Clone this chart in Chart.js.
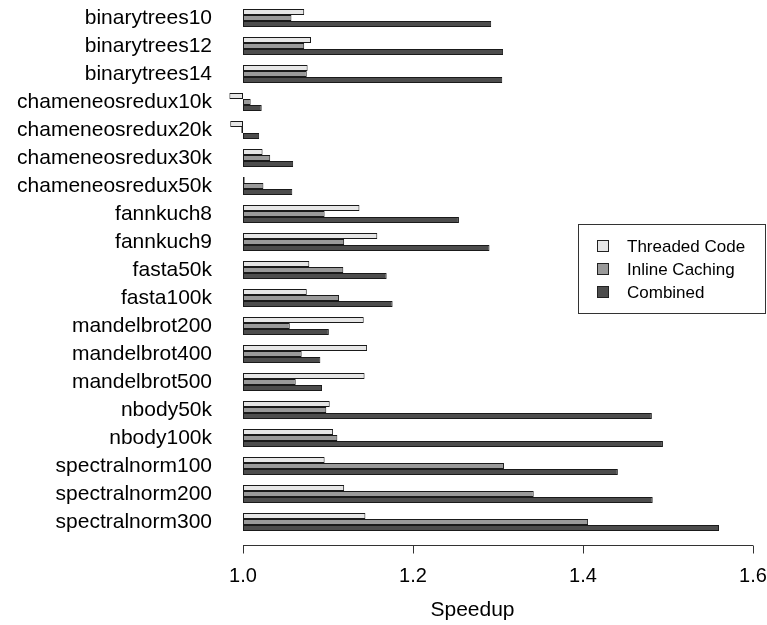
<!DOCTYPE html>
<html>
<head>
<meta charset="utf-8">
<script src="https://cdn.jsdelivr.net/npm/chart.js@4.4.1/dist/chart.umd.min.js"></script>
<style>
  html, body { margin: 0; padding: 0; background: #fff; }
  #wrap { width: 767px; height: 625px; }
</style>
</head>
<body>
<div id="wrap"><canvas id="chart-speedup"></canvas></div>
<script>
// benchmark names, top to bottom
const benchmarks = [
  "binarytrees10", "binarytrees12", "binarytrees14",
  "chameneosredux10k", "chameneosredux20k", "chameneosredux30k", "chameneosredux50k",
  "fannkuch8", "fannkuch9", "fasta50k", "fasta100k",
  "mandelbrot200", "mandelbrot400", "mandelbrot500",
  "nbody50k", "nbody100k",
  "spectralnorm100", "spectralnorm200", "spectralnorm300"
];

// speedups
const threadedCode = [1.072, 1.080, 1.076, 0.984, 0.985, 1.023, 1.002, 1.137, 1.158, 1.078, 1.075,
  1.142, 1.146, 1.143, 1.102, 1.106, 1.096, 1.119, 1.144];
const inlineCaching = [1.057, 1.072, 1.075, 1.009, 0.998, 1.032, 1.024, 1.096, 1.119, 1.118, 1.113,
  1.055, 1.069, 1.062, 1.098, 1.111, 1.307, 1.342, 1.406];
const combined = [1.292, 1.306, 1.305, 1.022, 1.019, 1.059, 1.058, 1.254, 1.290, 1.169, 1.176,
  1.101, 1.091, 1.093, 1.481, 1.494, 1.441, 1.482, 1.560];

const speedupTicks = [1.0, 1.2, 1.4, 1.6];
const axisTitle = "Speedup";

const seriesNames = ["Threaded Code", "Inline Caching", "Combined"];
const seriesColors = ["#e6e6e6", "#9a9a9a", "#4d4d4d"];

const FONT = "'Liberation Sans', Arial, Helvetica, sans-serif";

// R style axis: line only from first to last tick, detached below the bars
const axisPlugin = {
  id: "rAxis",
  afterDraw(chart) {
    const ctx = chart.ctx;
    const xs = chart.scales.x;
    const y0 = Math.round(chart.chartArea.bottom + 9) + 0.5;
    const first = xs.getPixelForValue(speedupTicks[0]);
    const last = xs.getPixelForValue(speedupTicks[speedupTicks.length - 1]);
    ctx.save();
    ctx.strokeStyle = "#333";
    ctx.lineWidth = 1;
    ctx.beginPath();
    ctx.moveTo(first, y0);
    ctx.lineTo(last, y0);
    speedupTicks.forEach(v => {
      const px = Math.round(xs.getPixelForValue(v)) + 0.5;
      ctx.moveTo(px, y0);
      ctx.lineTo(px, y0 + 8);
    });
    ctx.stroke();

    // axis title, centred on the plot region like R does
    ctx.font = "21px " + FONT;
    ctx.fillStyle = "#000";
    ctx.textAlign = "center";
    ctx.textBaseline = "middle";
    ctx.fillText(axisTitle, xs.getPixelForValue(1.27), 610);
    ctx.restore();
  }
};

// boxed legend in the right middle
const legendPlugin = {
  id: "boxLegend",
  afterDraw(chart) {
    const ctx = chart.ctx;
    ctx.save();
    ctx.strokeStyle = "#333";
    ctx.lineWidth = 1;
    ctx.strokeRect(578.5, 224.5, 187, 89);
    ctx.font = "17px " + FONT;
    ctx.textBaseline = "middle";
    chart.data.datasets.forEach((ds, i) => {
      const y = 246 + i * 23;
      ctx.fillStyle = ds.backgroundColor;
      ctx.fillRect(597.5, y - 5.5, 11, 11);
      ctx.strokeStyle = "#222";
      ctx.strokeRect(597.5, y - 5.5, 11, 11);
      ctx.fillStyle = "#000";
      ctx.fillText(ds.label, 627, y + 1);
    });
    ctx.restore();
  }
};

function makeDataset(label, values, color) {
  return {
    label: label,
    data: values,
    base: 1,
    backgroundColor: color,
    borderColor: "#1a1a1a",
    borderWidth: 1,
    borderSkipped: false,
    categoryPercentage: 0.64,
    barPercentage: 1.0
  };
}

const ctx = document.getElementById("chart-speedup").getContext("2d");

new Chart(ctx, {
  type: "bar",
  data: {
    labels: benchmarks,
    datasets: [
      makeDataset(seriesNames[0], threadedCode, seriesColors[0]),
      makeDataset(seriesNames[1], inlineCaching, seriesColors[1]),
      makeDataset(seriesNames[2], combined, seriesColors[2])
    ]
  },
  options: {
    indexAxis: "y",
    responsive: true,
    maintainAspectRatio: false,
    animation: false,
    layout: { padding: { top: 4, left: 0, right: 14, bottom: 37 } },
    plugins: {
      legend: { display: false },
      tooltip: { enabled: false }
    },
    scales: {
      x: {
        type: "linear",
        min: 0.98,
        max: 1.6,
        afterBuildTicks: (scale) => {
          scale.ticks = speedupTicks.map(v => ({ value: v }));
        },
        afterFit: (scale) => {
          scale.paddingLeft = 0;
          scale.paddingRight = 0;
          scale.height = 52;
        },
        grid: { display: false, drawTicks: true, tickLength: 20 },
        border: { display: false },
        ticks: {
          color: "#000",
          padding: 8,
          maxRotation: 0,
          font: { family: FONT, size: 20 },
          callback: (v) => Number(v).toFixed(1)
        }
      },
      y: {
        type: "category",
        grid: { display: false, drawTicks: false },
        border: { display: false },
        afterFit: (scale) => {
          scale.width = 226;
          scale.paddingTop = 0;
          scale.paddingBottom = 0;
        },
        ticks: {
          color: "#000",
          padding: 14,
          autoSkip: false,
          font: { family: FONT, size: 21 }
        }
      }
    }
  },
  plugins: [axisPlugin, legendPlugin]
});
</script>
</body>
</html>
